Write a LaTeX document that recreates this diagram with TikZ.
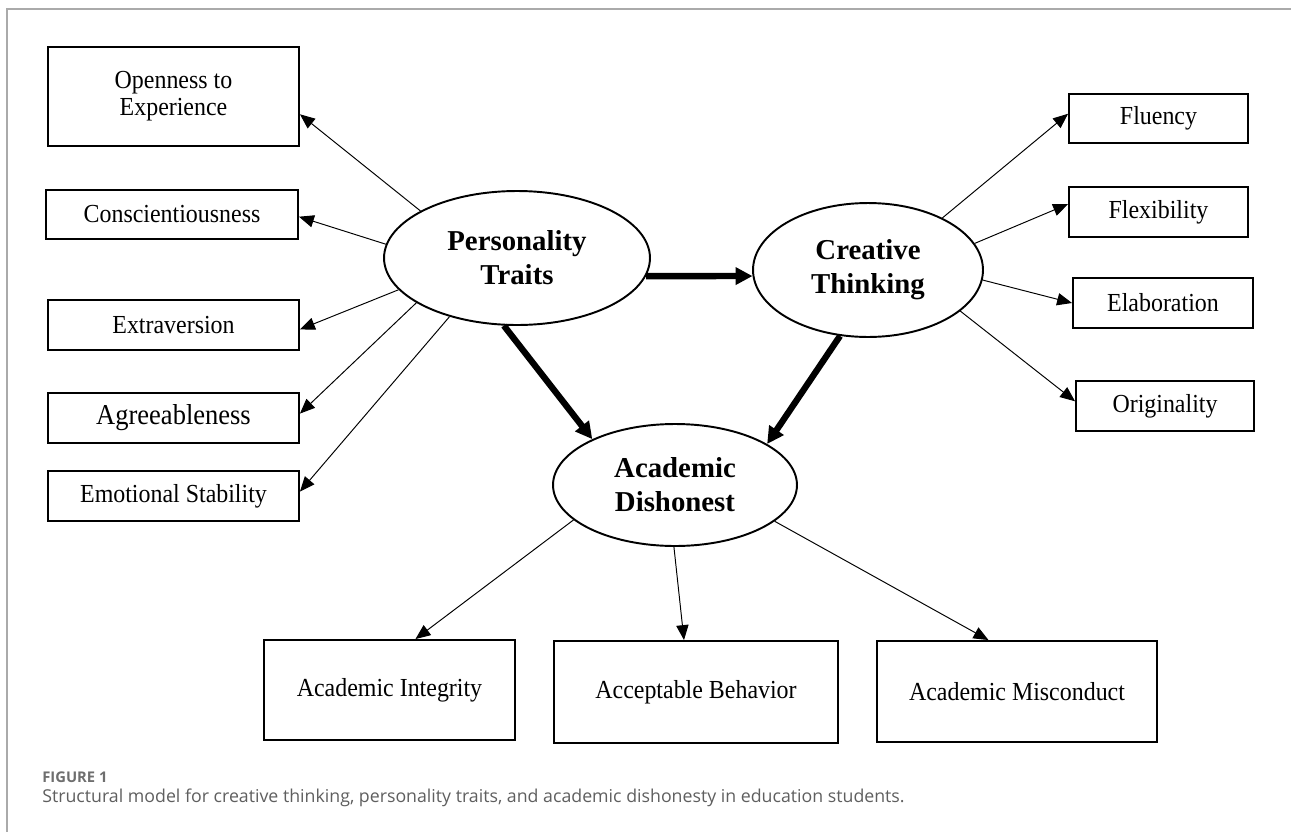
\documentclass[tikz,border=0pt]{standalone}
\usepackage{fontspec}
\setmainfont{Liberation Serif}
\newfontfamily\diafont[FakeStretch=0.92]{Liberation Serif}
\newfontfamily\capfont{Open Sans}
\usetikzlibrary{shapes.geometric,arrows.meta}
\definecolor{framegray}{RGB}{170,170,170}
\definecolor{capgray}{RGB}{95,95,95}
\definecolor{figgray}{RGB}{110,110,110}
\begin{document}
\begin{tikzpicture}[x=0.02cm,y=-0.02cm,
  box/.style={draw,line width=1.1pt,inner sep=0,align=center,font=\diafont\fontsize{14.8}{15.5}\selectfont},
  latent/.style={draw,ellipse,line width=1.1pt,inner sep=0,align=center,font=\fontsize{16.4}{19.3}\selectfont\bfseries},
  loadarrow/.style={-{Triangle[length=8.5pt,width=7pt]},line width=0.55pt},
  patharrow/.style={-{Triangle[length=9.6pt,width=9.5pt]},line width=3.6pt}]
\useasboundingbox (0,0) rectangle (1291,832);
\fill[white] (0,0) rectangle (1291,832);
% frame
\draw[framegray,line width=0.8pt] (1291,9) -- (7,9) -- (7,832);

% latent variables
\node[latent,minimum width=5.32cm,minimum height=2.68cm] (P) at (517,258) {Personality\\Traits};
\node[latent,minimum width=4.6cm,minimum height=2.68cm] (C) at (868,270) {Creative\\Thinking};
\node[latent,minimum width=4.88cm,minimum height=2.44cm] (A) at (675,485) {Academic\\Dishonest};

% left indicators
\node[box,minimum width=5.02cm,minimum height=1.98cm] (O) at (173.5,96.5) {Openness to\\Experience};
\node[box,minimum width=5.04cm,minimum height=0.98cm] (Cn) at (172,214.5) {Conscientiousness};
\node[box,minimum width=5.02cm,minimum height=1.0cm] (E) at (173.5,325) {Extraversion};
\node[box,minimum width=5.02cm,minimum height=1.0cm,font=\diafont\fontsize{16.4}{17}\selectfont] (Ag) at (173.5,418) {Agreeableness};
\node[box,minimum width=5.02cm,minimum height=1.0cm] (Em) at (173.5,496) {Emotional Stability};

% right indicators
\node[box,minimum width=3.58cm,minimum height=0.98cm] (Fl) at (1158.5,118.5) {Fluency};
\node[box,minimum width=3.58cm,minimum height=1.0cm] (Fx) at (1158.5,212) {Flexibility};
\node[box,minimum width=3.6cm,minimum height=1.0cm] (El) at (1163,303) {Elaboration};
\node[box,minimum width=3.56cm,minimum height=1.0cm] (Or) at (1165,406) {Originality};

% bottom indicators
\node[box,minimum width=5.02cm,minimum height=2.0cm] (AI) at (389.5,690) {Academic Integrity};
\node[box,minimum width=5.68cm,minimum height=2.04cm] (AB) at (696,692) {Acceptable Behavior};
\node[box,minimum width=5.6cm,minimum height=2.02cm] (AM) at (1017,691.5) {Academic Misconduct};

% loadings
\draw[loadarrow] (P.154) -- (O.-8.3);
\draw[loadarrow] (P.174.4) -- (Cn.-1.1);
\draw[loadarrow] (P.195.8) -- (E.-2.3);
\draw[loadarrow] (P.204.3) -- (Ag.2.2);
\draw[loadarrow] (P.221.5) -- (Em.2.7);

\draw[loadarrow] (C.35.3) -- (Fl.177.7);
\draw[loadarrow] (C.14.2) -- (Fx.175.4);
\draw[loadarrow] (C.355.1) -- (El.180);
\draw[loadarrow] (C.336.4) -- (Or.177.4);

\draw[loadarrow] (A.199.8) -- (AI.63);
\draw[loadarrow] (A.269) -- (AB.103.2);
\draw[loadarrow] (A.340.2) -- (AM.119.9);

% structural paths
\draw[patharrow] (P.352) -- (C.183.6);
\draw[patharrow] (P.259) -- (A.151);
\draw[patharrow] (C.247.2) -- (A.24.7);

% caption
\node[anchor=base west,inner sep=0,text=figgray,font=\capfont\bfseries\fontsize{8.4}{10}\selectfont] (fig) at (42,782) {FIGURE 1};
\node[anchor=base west,inner sep=0,text=capgray,font=\capfont\fontsize{10.1}{12}\selectfont] (cap) at (42,802) {Structural model for creative thinking, personality traits, and academic dishonesty in education students.};
\end{tikzpicture}
\end{document}
